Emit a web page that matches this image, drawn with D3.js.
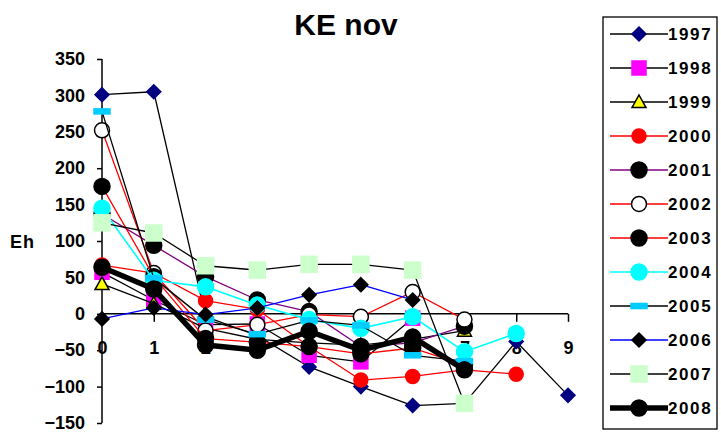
<!DOCTYPE html>
<html lang="en">
<head>
  <meta charset="UTF-8" />
  <title>KE nov</title>
  <script src="https://d3js.org/d3.v7.min.js"></script>
  <style>
    html, body {
      margin: 0;
      padding: 0;
      background: #fff;
      font-family: Arial, "Liberation Sans", sans-serif;
    }
    svg { display: block; }
    .tick text { font-weight: bold; }
  </style>
</head>
<body>
  <svg width="721" height="435"></svg>

  <script>
    // ---------------------------------------------------------
    // Data
    // ---------------------------------------------------------
    const years = ["1997", "1998", "1999", "2000", "2001", "2002",
                   "2003", "2004", "2005", "2006", "2007", "2008"];

    const v1997 = [301, 305, -4, -30, -73, -100, -126, -123, -38, -112];
    const v1998 = [57, 19, -15, -14, -57, -66, -6];
    const v1999 = [41, 14, -20, -35, -40, -43, -35, -23];
    const v2000 = [67, 56, 18, 6, -45, -91, -86, -77, -83];
    const v2001 = [137, 94, 51, 19, 3, -45, -40, -17];
    const v2002 = [252, 56, -23, -15, -1, -4, 30, -8];
    const v2003 = [175, 51, -34, -39, -45, -55, -47, -70];
    const v2004 = [145, 46, 37, 12, -8, -20, -4, -52, -27];
    const v2005 = [278, 49, -8, -28, -9, -16, -57, -65];
    const v2006 = [-7, 8, -1, 8, 26, 40, 19];
    const v2007 = [125, 111, 66, 60, 68, 68, 60, -123];
    const v2008 = [64, 34, -43, -50, -24, -50, -32, -77];

    const yTicks = [-150, -100, -50, 0, 50, 100, 150, 200, 250, 300, 350];
    const xTicks = [0, 1, 2, 3, 4, 5, 6, 7, 8, 9];

    // style per series: line colour, line width, marker shape, fill, stroke
    const seriesStyle = [
      { values: v1997, line: "#000", lw: 1.3, shape: "diamond", fill: "#000080", stroke: "#000080", size: 7 },
      { values: v1998, line: "#000", lw: 1.3, shape: "square",  fill: "#ff00ff", stroke: "#ff00ff", size: 7 },
      { values: v1999, line: "#000", lw: 1.3, shape: "triangle",fill: "#ffff00", stroke: "#000",    size: 7 },
      { values: v2000, line: "#ff0000", lw: 1.3, shape: "circle", fill: "#ff0000", stroke: "#ff0000", size: 7 },
      { values: v2001, line: "#800080", lw: 1.3, shape: "circle", fill: "#000", stroke: "#000", size: 8 },
      { values: v2002, line: "#ff0000", lw: 1.3, shape: "circle", fill: "#fff", stroke: "#000", size: 7.5 },
      { values: v2003, line: "#ff0000", lw: 1.3, shape: "circle", fill: "#000", stroke: "#000", size: 8 },
      { values: v2004, line: "#00ffff", lw: 1.6, shape: "circle", fill: "#00ffff", stroke: "#00ffff", size: 8 },
      { values: v2005, line: "#000", lw: 1.3, shape: "dash",   fill: "#00ccff", stroke: "#00ccff", size: 8 },
      { values: v2006, line: "#0000ff", lw: 1.3, shape: "diamond", fill: "#000", stroke: "#000", size: 7 },
      { values: v2007, line: "#000", lw: 1.3, shape: "square", fill: "#ccffcc", stroke: "#ccffcc", size: 8 },
      { values: v2008, line: "#000", lw: 5.5, shape: "circle", fill: "#000", stroke: "#000", size: 8 }
    ];

    // ---------------------------------------------------------
    // Scales & axes
    // ---------------------------------------------------------
    const svg = d3.select("svg");

    const x = d3.scaleLinear().domain([0, 9]).range([102, 568]);
    const y = d3.scaleLinear().domain([-150, 350]).range([423, 59]);

    // title
    svg.append("text")
      .attr("x", 346).attr("y", 35)
      .attr("text-anchor", "middle")
      .attr("font-size", "30px").attr("font-weight", "bold")
      .text("KE nov");

    // y axis label
    svg.append("text")
      .attr("x", 10).attr("y", 248)
      .attr("font-size", "18px").attr("font-weight", "bold")
      .attr("letter-spacing", "1px")
      .text("Eh");

    // y axis
    const yAxis = svg.append("g")
      .attr("transform", `translate(${x(0)},0)`)
      .call(d3.axisLeft(y).tickValues(yTicks).tickSize(5).tickPadding(12).tickFormat(d3.format("d")));
    yAxis.selectAll("text").attr("font-size", "18px").attr("font-family", "Arial, sans-serif").attr("fill", "#000");
    yAxis.selectAll("line, path").attr("stroke", "#000").attr("stroke-width", 1.5);
    yAxis.select(".domain").attr("d", `M0,${y(-150)}V${y(350)}`);

    // x axis crossing at 0
    const xAxis = svg.append("g")
      .attr("transform", `translate(0,${y(0)})`)
      .call(d3.axisBottom(x).tickValues(xTicks).tickSize(8).tickPadding(19));
    xAxis.selectAll("text").attr("font-size", "18px").attr("font-family", "Arial, sans-serif").attr("fill", "#000");
    xAxis.selectAll("line, path").attr("stroke", "#000").attr("stroke-width", 1.5);
    xAxis.select(".domain").attr("d", `M${x(0)},0H${x(9)}`);

    // ---------------------------------------------------------
    // Marker helper
    // ---------------------------------------------------------
    function drawMarker(g, st, cx, cy) {
      const s = st.size;
      let m;
      if (st.shape === "circle") {
        m = g.append("circle").attr("cx", cx).attr("cy", cy).attr("r", s);
      } else if (st.shape === "square") {
        m = g.append("rect").attr("x", cx - s).attr("y", cy - s).attr("width", 2 * s).attr("height", 2 * s);
      } else if (st.shape === "diamond") {
        m = g.append("path").attr("d", `M${cx},${cy - s}L${cx + s},${cy}L${cx},${cy + s}L${cx - s},${cy}Z`);
      } else if (st.shape === "triangle") {
        m = g.append("path").attr("d", `M${cx},${cy - s}L${cx + s},${cy + s * 0.8}L${cx - s},${cy + s * 0.8}Z`);
      } else {
        m = g.append("rect").attr("x", cx - s).attr("y", cy - 2.5).attr("width", 2 * s).attr("height", 5);
      }
      m.attr("fill", st.fill).attr("stroke", st.stroke).attr("stroke-width", 1.5);
    }

    // ---------------------------------------------------------
    // Series
    // ---------------------------------------------------------
    const line = d3.line().x((d, i) => x(i)).y(d => y(d));
    const plot = svg.append("g");

    seriesStyle.forEach(st => {
      const g = plot.append("g");
      g.append("path")
        .attr("d", line(st.values))
        .attr("fill", "none")
        .attr("stroke", st.line)
        .attr("stroke-width", st.lw)
        .attr("stroke-linejoin", "round");
      st.values.forEach((v, i) => drawMarker(g, st, x(i), y(v)));
    });

    // ---------------------------------------------------------
    // Legend
    // ---------------------------------------------------------
    const legend = svg.append("g");
    legend.append("rect")
      .attr("x", 603).attr("y", 17).attr("width", 114).attr("height", 412)
      .attr("fill", "#fff").attr("stroke", "#000").attr("stroke-width", 1.3);

    years.forEach((yr, i) => {
      const st = seriesStyle[i];
      const cy = 34 + i * 34;
      legend.append("line")
        .attr("x1", 610).attr("x2", 668).attr("y1", cy).attr("y2", cy)
        .attr("stroke", st.line).attr("stroke-width", st.lw);
      drawMarker(legend, st, 639, cy);
      legend.append("text")
        .attr("x", 668).attr("y", cy + 6)
        .attr("font-size", "17px").attr("font-weight", "bold")
        .attr("letter-spacing", "1.6px")
        .text(yr);
    });
  </script>
</body>
</html>
